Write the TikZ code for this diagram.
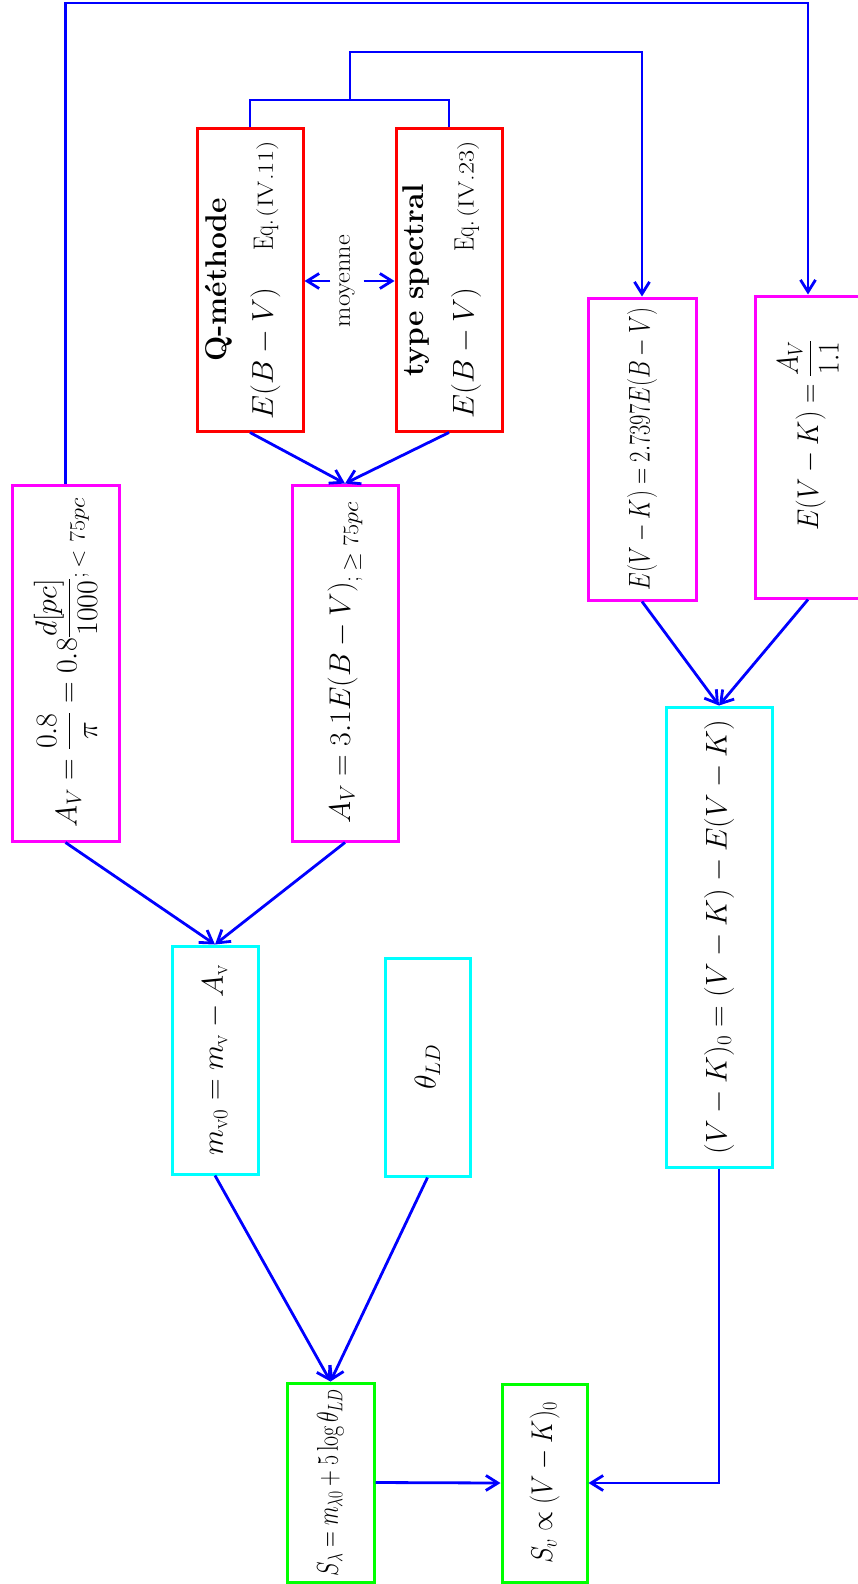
\RequirePackage{fix-cm}
\documentclass[tikz,border=0pt]{standalone}
\usepackage{amsmath}
\usepackage{graphicx}
\usepackage{fontspec}
\usetikzlibrary{arrows.meta}
\definecolor{lnblue}{RGB}{0,0,255}
\definecolor{bxred}{RGB}{255,0,0}
\definecolor{bxmag}{RGB}{255,0,255}
\definecolor{bxcyan}{RGB}{0,255,255}
\definecolor{bxgreen}{RGB}{0,255,0}
\newcommand{\sx}[2]{\scalebox{#1}[1]{#2}}
\newcommand{\vtext}[1]{\rotatebox{90}{#1}}
\newcommand{\twolines}[4]{\vbox{\baselineskip=#3\lineskiplimit=-100pt\halign{\hfil##\hfil\cr#1\cr#2\cr}\kern#4}}
\newcommand{\myeqlabel}[1]{\sx{0.8}{\fontsize{28}{33}\selectfont Eq.}\hspace{3pt}\sx{1.2}{\fontsize{22}{26}\selectfont (#1)}}
\begin{document}
\begin{tikzpicture}[x=1pt,y=-1pt,
  box/.style={draw, line width=3pt, inner sep=0pt, font=\fontsize{30}{36}\selectfont},
  conn/.style={draw=lnblue, line width=2.8pt},
  arr/.style={conn, -{Straight Barb[length=12pt,width=15pt]}}]
\useasboundingbox (0,0) rectangle (858,1584);
\clip (0,0) rectangle (858,1584);

% boxes
\node[box, draw=bxred, minimum width=106pt, minimum height=302pt] (q) at (250,280)
  {\vtext{\twolines{\bfseries Q-méthode}{\sx{1.02}{$E(B-V)$}\hspace{37pt}\myeqlabel{IV.11}}{46pt}{14pt}}};
\node[box, draw=bxred, minimum width=106pt, minimum height=302pt] (ts) at (449,280)
  {\vtext{\twolines{\bfseries type spectral}{\sx{1.02}{$E(B-V)$}\hspace{36pt}\myeqlabel{IV.23}}{50pt}{14pt}}};
\node[font=\fontsize{24}{29}\selectfont, inner sep=0pt, minimum width=33pt] (mo) at (347,281) {\vtext{\sx{1.1}{moyenne}}};

\node[box, draw=bxmag, minimum width=107pt, minimum height=356pt] (av1) at (65.5,663)
  {\vtext{\sx{1}{$A_V = \dfrac{0.8}{\pi} = 0.8\dfrac{d[pc]}{1000}$}\raisebox{-8pt}{\sx{1.1}{\fontsize{22}{26}\selectfont$;<75pc$}}}};
\node[box, draw=bxmag, minimum width=106pt, minimum height=356pt] (av2) at (345,663)
  {\vtext{\sx{1}{$A_V = 3.1E(B-V)$}\raisebox{-8pt}{\sx{1.1}{\fontsize{22}{26}\selectfont$;\geq 75pc$}}}};

\node[box, draw=bxmag, minimum width=108pt, minimum height=302pt] (e1) at (642,449)
  {\vtext{\sx{0.75}{$E(V-K) = 2.7397E(B-V)$}}};
\node[box, draw=bxmag, minimum width=106pt, minimum height=302pt] (e2) at (808,447)
  {\vtext{\hspace*{24pt}\sx{0.9}{$E(V-K) = \dfrac{A_V}{1.1}$}}};

\node[box, draw=bxcyan, minimum width=86pt, minimum height=228pt] (mv) at (215,1060)
  {\vtext{$m_{\mathrm{v}0} = m_{\mathrm{v}} - A_{\mathrm{v}}$}};
\node[box, draw=bxcyan, minimum width=85pt, minimum height=218pt] (th) at (427.5,1067)
  {\vtext{$\theta_{LD}$}};
\node[box, draw=bxcyan, minimum width=106pt, minimum height=460pt] (vk) at (719,937)
  {\vtext{\sx{1.0}{$(V-K)_0 = (V-K) - E(V-K)$}}};

\node[box, draw=bxgreen, minimum width=87pt, minimum height=199pt] (sl) at (330.5,1482.5)
  {\vtext{\sx{0.73}{$S_\lambda = m_{\lambda 0} + 5\log\theta_{LD}$}}};
\node[box, draw=bxgreen, minimum width=85pt, minimum height=198pt] (sv) at (544.5,1483)
  {\vtext{\sx{0.86}{$S_v \propto (V-K)_0$}}};

% connectors
\coordinate (bar) at (350,100);
\coordinate (stemtop) at (350,52);
\coordinate (outer) at (0,3);
\draw[conn] (q.north) -- (q.north |- bar) -- (ts.north |- bar) -- (ts.north);
\draw[arr] (bar) |- (e1.north |- stemtop) -- (e1.north);
\draw[arr] (av1.north) -- (av1.north |- outer) -- (e2.north |- outer) -- (e2.north);
\draw[arr] (mo.west) -- (q.east |- mo.west);
\draw[arr] (mo.east) -- (ts.west |- mo.east);
\draw[arr] (q.south) -- (av2.north);
\draw[arr] (ts.south) -- (av2.north);
\draw[arr] (av1.south) -- (mv.north);
\draw[arr] (av2.south) -- (mv.north);
\draw[arr] (e1.south) -- (vk.north);
\draw[arr] (e2.south) -- (vk.north);
\draw[arr] (mv.south) -- (sl.north);
\draw[arr] (th.south) -- (sl.north);
\draw[arr] (sl.east) -- (sv.west);
\draw[arr] (vk.south) |- (sv.east);
\end{tikzpicture}
\end{document}
